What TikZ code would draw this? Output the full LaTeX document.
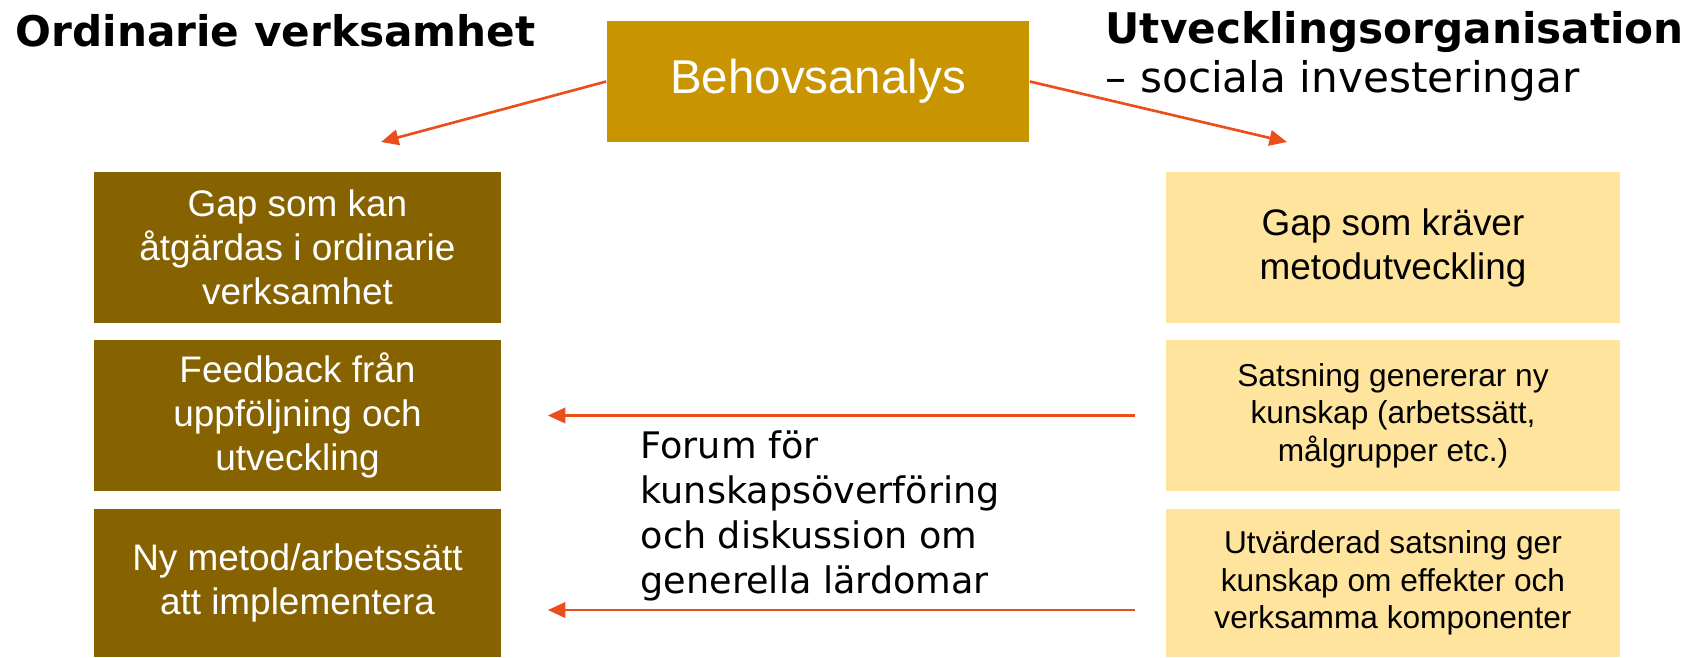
\documentclass[tikz,border=0pt]{standalone}
\usepackage{fontspec}
\setmainfont{Liberation Sans}
\newfontfamily\verdana{DejaVu Sans}
\usetikzlibrary{arrows.meta, positioning}
\definecolor{behovcolor}{RGB}{200,148,0}
\definecolor{darkbox}{RGB}{134,99,0}
\definecolor{lightbox}{RGB}{255,228,158}
\definecolor{arrowcolor}{RGB}{233,78,27}

\tikzset{
  leftbox/.style={fill=darkbox, text=white, minimum width=4.07cm, minimum height=1.51cm,
    align=center, inner sep=0pt, font=\fontsize{10.5}{12.5}\selectfont},
  rightbox/.style={leftbox, fill=lightbox, text=black, minimum width=4.54cm},
  bottomrow/.style={minimum height=1.48cm},
  smalltext/.style={font=\fontsize{9}{10.7}\selectfont},
  heading/.style={anchor=base west, inner sep=0pt, font=\verdana\fontsize{12}{14}\selectfont},
  arr/.style={-{Triangle[length=5pt,width=4.4pt]}, draw=arrowcolor, line width=0.75pt},
}

\begin{document}
\begin{tikzpicture}[x=0.01cm, y=-0.01cm]
  \useasboundingbox (0,0) rectangle (1688,657);

  % headings
  \node[heading, font=\verdana\bfseries\fontsize{12}{14}\selectfont] (ordinarie) at (15,46) {Ordinarie verksamhet};
  \node[heading, font=\verdana\bfseries\fontsize{12}{14}\selectfont] (utv) at (1105,43) {Utvecklingsorganisation};
  \node[heading] (sociala) at (1105,92) {– sociala investeringar};

  % top box
  \node[fill=behovcolor, text=white, minimum width=4.22cm, minimum height=1.21cm,
    font=\fontsize{13.5}{16}\selectfont] (behov) at (818,81.5) {Behovsanalys};

  % left column
  \node[leftbox] (gapkan) at (297.5,247.5) {Gap som kan\\åtgärdas i ordinarie\\verksamhet};
  \node[leftbox] (feedback) at (297.5,415.5) {Feedback från\\uppföljning och\\utveckling};
  \node[leftbox, bottomrow] (nymetod) at (297.5,583) {Ny metod/arbetssätt\\att implementera};

  % right column
  \node[rightbox] (gapkraver) at (1393,247.5) {Gap som kräver\\metodutveckling};
  \node[rightbox, smalltext] (satsning) at (1393,415.5) {Satsning genererar ny\\kunskap (arbetssätt,\\målgrupper etc.)};
  \node[rightbox, smalltext, bottomrow] (utvard) at (1393,583) {Utvärderad satsning ger\\kunskap om effekter och\\verksamma komponenter};

  % middle text
  \node[anchor=north west, align=left, inner sep=0pt, font=\verdana\fontsize{10.4}{12.8}\selectfont]
    (forum) at (640,430) {Forum för\\kunskapsöverföring\\och diskussion om\\generella lärdomar};

  % arrows
  \coordinate (lefttip) at (381,142);
  \coordinate (righttip) at (1287,142);
  \draw[arr] (behov.west) -- (lefttip);
  \draw[arr] (behov.east) -- (righttip);
  \draw[arr] ([xshift=-0.3cm]satsning.west) -- ([xshift=0.46cm]feedback.east);
  \draw[arr] ([shift={(-0.3cm,-0.27cm)}]utvard.west) -- ([shift={(0.46cm,-0.27cm)}]nymetod.east);
\end{tikzpicture}
\end{document}
